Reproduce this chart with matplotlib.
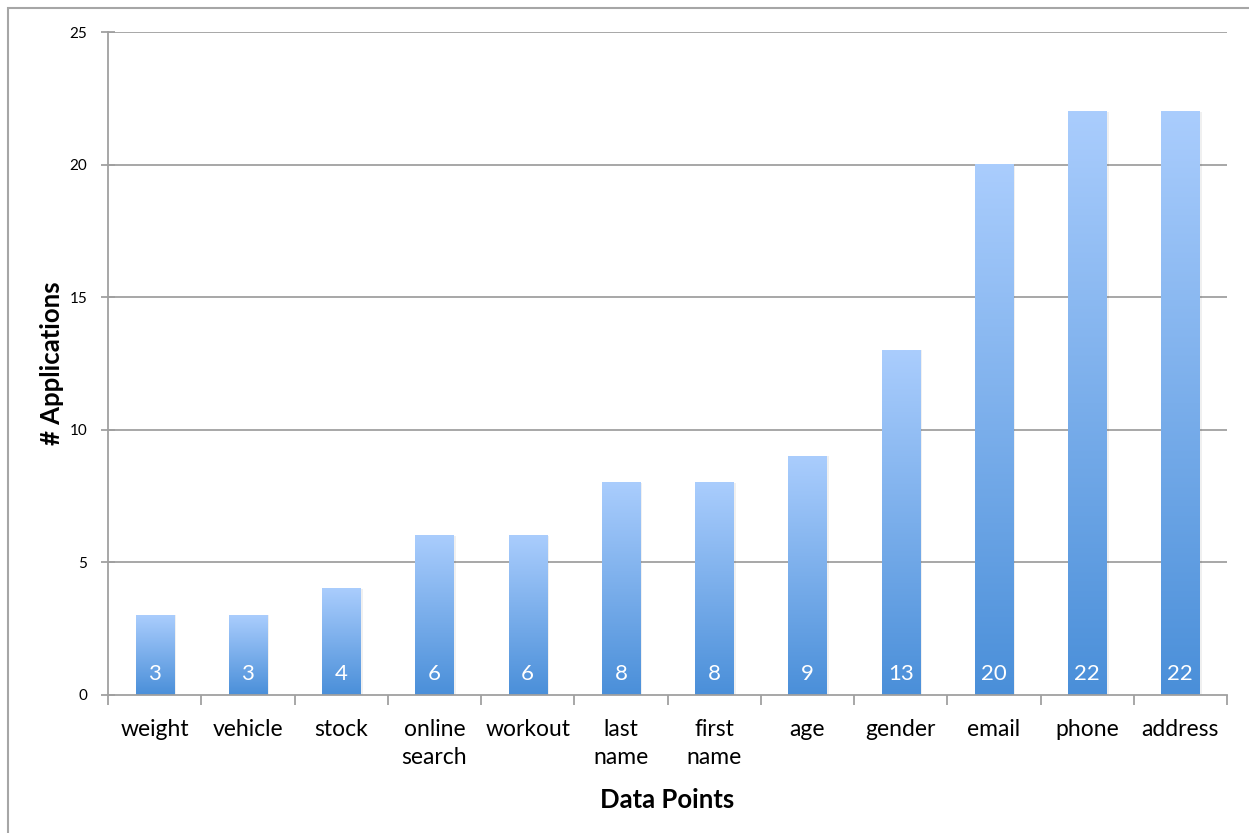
import numpy as np
import matplotlib.pyplot as plt
from matplotlib.colors import LinearSegmentedColormap
from matplotlib.patches import Rectangle

categories = ["weight", "vehicle", "stock", "online\nsearch", "workout",
              "last\nname", "first\nname", "age", "gender", "email",
              "phone", "address"]
counts = [3, 3, 4, 6, 6, 8, 8, 9, 13, 20, 22, 22]
y_ticks = [0, 5, 10, 15, 20, 25]

plt.rcParams['font.family'] = ['Lato', 'DejaVu Sans']

fig = plt.figure(figsize=(12.49, 8.33), dpi=100)
ax = fig.add_axes([108 / 1249, 1 - 695 / 833, (1227 - 108) / 1249, (695 - 32) / 833])

# outer frame of the chart area
fig.patches.append(Rectangle((8 / 1249, -0.1), 1.2, (833 - 8) / 833 + 0.1,
                             transform=fig.transFigure, fill=False,
                             edgecolor='#a6a6a6', linewidth=1.5, zorder=0))

grid_color = '#a0a0a0'
cmap = LinearSegmentedColormap.from_list('barfade', ['#4a8fd9', '#aacdfd'])
grad = np.linspace(0, 1, 256).reshape(-1, 1)

n = len(categories)
x = np.arange(n)
width = 0.41
for xi, v in zip(x, counts):
    # soft shadow on the right side
    ax.add_patch(Rectangle((xi - width / 2 + 0.025, 0), width, v,
                           facecolor='#000000', alpha=0.06, linewidth=0, zorder=2))
    ax.imshow(grad, extent=[xi - width / 2, xi + width / 2, 0, v],
              origin='lower', cmap=cmap, aspect='auto', zorder=3,
              interpolation='bilinear')
    ax.text(xi, 0.8, str(v), ha='center', va='center', color='white',
            fontsize=16, zorder=4)

ax.set_xlim(-0.5, n - 0.5)
ax.set_ylim(0, 25)

for yv in y_ticks[1:]:
    ax.axhline(yv, color=grid_color, linewidth=1.3, zorder=1)

ax.set_yticks(y_ticks)
ax.set_yticklabels([str(t) for t in y_ticks], fontsize=11)
ax.tick_params(axis='y', direction='inout', length=10, width=1.3,
               color=grid_color, pad=10)

ax.set_xticks(x)
ax.set_xticklabels(categories, fontsize=16.5, linespacing=1.45)
ax.set_xticks(np.arange(n + 1) - 0.5, minor=True)
ax.tick_params(axis='x', which='major', length=0, pad=17)
ax.tick_params(axis='x', which='minor', direction='out', length=7,
               width=1.3, color=grid_color)

for side in ['top', 'right']:
    ax.spines[side].set_visible(False)
for side in ['left', 'bottom']:
    ax.spines[side].set_color(grid_color)
    ax.spines[side].set_linewidth(1.3)
ax.spines['bottom'].set_zorder(5)

ax.set_ylabel('# Applications', fontsize=18.5, fontweight='bold', labelpad=4)
ax.set_xlabel('Data Points', fontsize=18.5, fontweight='bold', labelpad=14)

fig.savefig('out.png', dpi=100, facecolor='white')
